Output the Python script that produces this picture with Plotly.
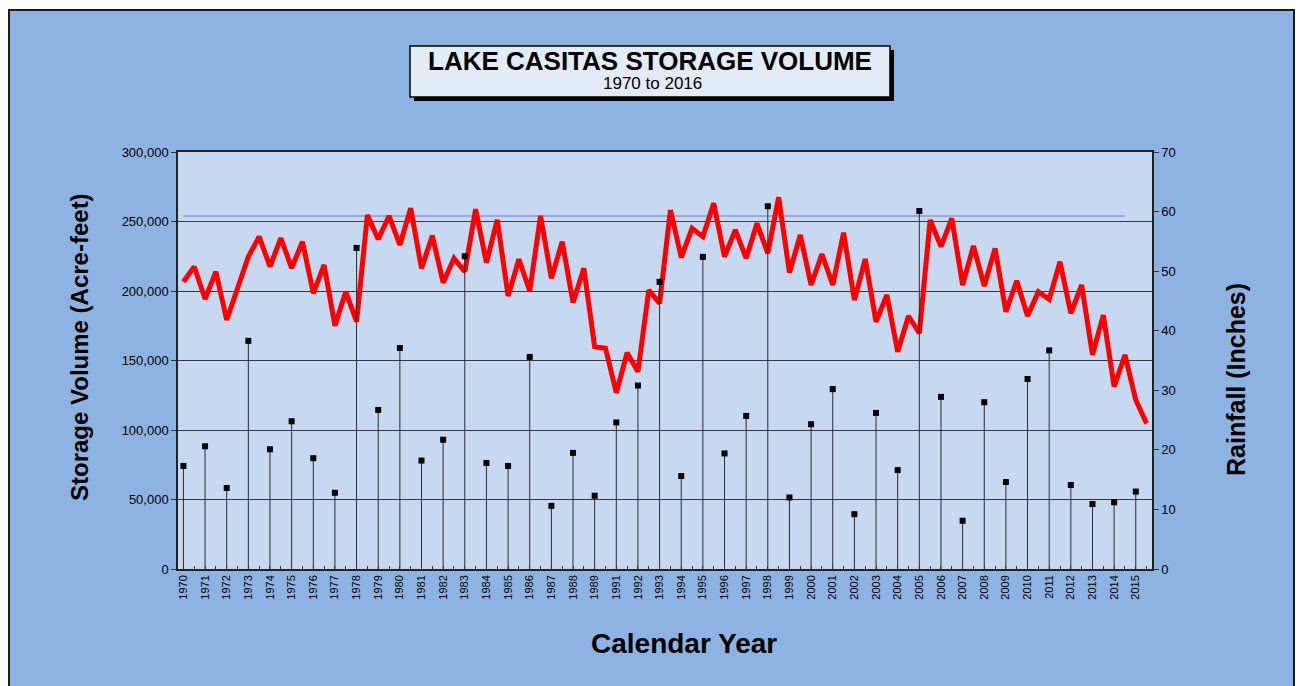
import plotly.graph_objects as go

# ---- data ----
year_labels = ["1970", "1971", "1972", "1973", "1974", "1975", "1976", "1977", "1978", "1979",
               "1980", "1981", "1982", "1983", "1984", "1985", "1986", "1987", "1988", "1989",
               "1991", "1992", "1993", "1994", "1995", "1996", "1997", "1998", "1999",
               "2000", "2001", "2002", "2003", "2004", "2005", "2006", "2007", "2008", "2009",
               "2010", "2011", "2012", "2013", "2014", "2015"]

# storage (acre-feet) at the start of each year and at mid-year
storage_start = [206700, 194200, 179100, 224700, 217500, 216500, 198300, 175000, 177900, 237200,
                 233100, 216300, 206000, 213900, 220400, 196400, 200000, 209100, 191600, 159900,
                 126800, 141900, 191100, 224200, 239100, 224700, 223500, 227100, 213200,
                 204300, 204300, 193500, 177900, 156300, 169600, 231900, 204300, 203600, 185100,
                 182000, 194000, 184000, 154000, 131200, 121600]
storage_mid = [217500, 213900, 202000, 239100, 238100, 235500, 218700, 199500, 254700, 254000,
               259500, 239800, 223500, 258800, 251100, 222800, 254000, 235500, 216300, 158800,
               155600, 200700, 258300, 245100, 263100, 243900, 248700, 267400, 240300,
               226600, 241900, 223000, 197100, 182000, 251100, 252300, 232400, 230700, 207400,
               199500, 221100, 204300, 182700, 154000, 104800]

# rainfall (inches) per year
rainfall = [17.3, 20.6, 13.6, 38.3, 20.1, 24.8, 18.6, 12.8, 53.9, 26.7,
            37.1, 18.2, 21.7, 52.5, 17.8, 17.3, 35.6, 10.6, 19.5, 12.3,
            24.6, 30.8, 48.2, 15.6, 52.4, 19.4, 25.7, 60.9, 12.0,
            24.3, 30.2, 9.2, 26.2, 16.6, 60.1, 28.9, 8.1, 28.0, 14.6,
            31.9, 36.7, 14.1, 10.9, 11.2, 13.0]

capacity = 254000
capacity_points = 88

# ---- derived series ----
storage = []
for a, b in zip(storage_start, storage_mid):
    storage += [a, b]
x_storage = list(range(len(storage)))
x_years = [2 * i for i in range(len(year_labels))]

stem_x, stem_y = [], []
for xv, r in zip(x_years, rainfall):
    stem_x += [xv, xv, None]
    stem_y += [0, r, None]

W, H = 1299, 686
L, R, T, B = 178, 1152, 152, 569
pw, ph = R - L, B - T

def px(v):  # page x -> paper x
    return (v - L) / pw

def py(v):  # page y -> paper y
    return (B - v) / ph

fig = go.Figure()

# rainfall stems
fig.add_trace(go.Scatter(x=stem_x, y=stem_y, mode="lines", yaxis="y2",
                         line=dict(color="#2a2a2a", width=1), hoverinfo="skip", showlegend=False))
fig.add_trace(go.Scatter(x=x_years, y=rainfall, mode="markers", yaxis="y2",
                         marker=dict(symbol="square", size=6, color="#000000"),
                         name="Rainfall", showlegend=False))
# capacity line
fig.add_trace(go.Scatter(x=x_storage[:capacity_points], y=[capacity] * capacity_points,
                         mode="lines", line=dict(color="#9aa6ea", width=2),
                         hoverinfo="skip", showlegend=False))
# storage line
fig.add_trace(go.Scatter(x=x_storage, y=storage, mode="lines",
                         line=dict(color="#ff0000", width=5), name="Storage", showlegend=False))

shapes = [
    # outer blue panel
    dict(type="rect", xref="paper", yref="paper", x0=px(9), x1=px(1294), y0=py(720), y1=py(10),
         fillcolor="#8db3e2", line=dict(color="#1a1a1a", width=2), layer="below"),
    # plot area
    dict(type="rect", xref="paper", yref="paper", x0=0, x1=1, y0=0, y1=1,
         fillcolor="#c6d9f1", line=dict(width=0), layer="below"),
    # title box shadow
    dict(type="rect", xref="paper", yref="paper", x0=px(414), x1=px(894), y0=py(101), y1=py(50),
         fillcolor="#000000", line=dict(width=0), layer="above"),
    # title box
    dict(type="rect", xref="paper", yref="paper", x0=px(410), x1=px(890), y0=py(97), y1=py(46),
         fillcolor="#e3ebf6", line=dict(color="#000000", width=1.5), layer="above"),
]

FONT = "Arial, Liberation Sans, sans-serif"

def ann(text, x, y, size, angle=0):
    return dict(text=text, xref="paper", yref="paper", x=px(x), y=py(y),
                xanchor="center", yanchor="middle", showarrow=False, textangle=angle,
                font=dict(family=FONT, size=size, color="#000"))

annotations = [
    ann("<b>LAKE CASITAS STORAGE VOLUME</b>", 650, 61, 26),
    ann("1970 to 2016", 652, 84, 17),
    ann("<b>Storage Volume (Acre-feet)</b>", 79, 347, 24, -90),
    ann("<b>Rainfall (Inches)</b>", 1236, 380, 25, -90),
    ann("<b>Calendar Year</b>", 684, 643, 28),
]

tickvals_all = x_storage
ticktext_all = []
for i in range(len(storage)):
    ticktext_all.append(year_labels[i // 2] if i % 2 == 0 else "")

fig.update_layout(
    width=W, height=H,
    margin=dict(l=L, r=W - R, t=T, b=H - B),
    paper_bgcolor="#ffffff",
    plot_bgcolor="rgba(0,0,0,0)",
    shapes=shapes,
    annotations=annotations,
    font=dict(family=FONT, color="#000"),
    xaxis=dict(range=[-0.5, len(storage) - 0.5], tickvals=tickvals_all, ticktext=ticktext_all,
               tickangle=-90, tickfont=dict(size=11), ticks="inside", ticklen=3,
               tickcolor="#333", showgrid=False, zeroline=False,
               showline=True, linecolor="#222", linewidth=1.5, mirror=True),
    yaxis=dict(range=[0, 300000], tickvals=[0, 50000, 100000, 150000, 200000, 250000, 300000],
               ticktext=["0", "50,000", "100,000", "150,000", "200,000", "250,000", "300,000"],
               tickfont=dict(size=13), ticks="outside", ticklen=5, tickcolor="#333",
               showgrid=True, gridcolor="#3a3a3a", gridwidth=1, zeroline=False,
               showline=True, linecolor="#222", linewidth=1.5),
    yaxis2=dict(range=[0, 70], dtick=10, overlaying="y", side="right",
                tickfont=dict(size=13), ticks="outside", ticklen=5, tickcolor="#333",
                showgrid=False, zeroline=False, showline=True, linecolor="#222", linewidth=1.5),
    hovermode="closest",
)

fig.write_html("out.html",
               config={"displayModeBar": False},
               post_script="document.body.style.margin='0';document.body.style.overflow='hidden';")
